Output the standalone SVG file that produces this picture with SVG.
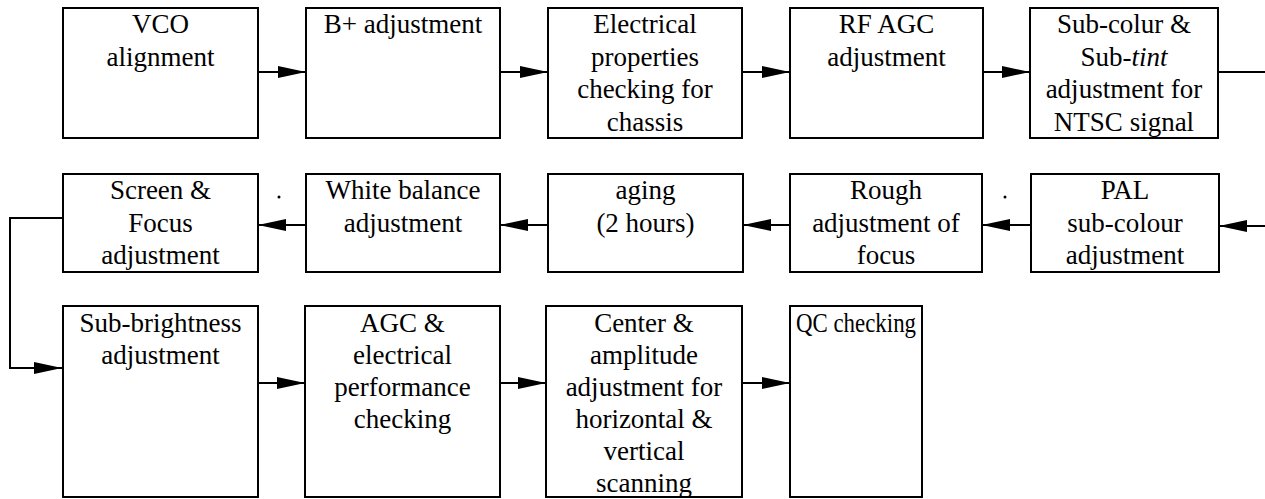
<svg xmlns="http://www.w3.org/2000/svg" width="1265" height="499" viewBox="0 0 1265 499">
<style>
.box{fill:#fff;stroke:#000;stroke-width:2}
.t{font-family:'Liberation Serif','DejaVu Serif','Times New Roman',serif;font-size:27px;fill:#000;text-anchor:middle}
.c{fill:none;stroke:#000;stroke-width:2}
.i{font-style:italic}
</style>
<defs>
<marker id="ah" markerUnits="userSpaceOnUse" markerWidth="30" markerHeight="14" refX="28" refY="6" orient="auto">
<path d="M0,0 L28,6 L0,12 z" fill="#000"/>
</marker>
</defs>
<g id="connectors">
<line class="c" x1="258" y1="72" x2="306" y2="72" marker-end="url(#ah)"/>
<line class="c" x1="500" y1="72" x2="548" y2="72" marker-end="url(#ah)"/>
<line class="c" x1="742" y1="72" x2="790" y2="72" marker-end="url(#ah)"/>
<line class="c" x1="983" y1="72" x2="1030" y2="72" marker-end="url(#ah)"/>
<line class="c" x1="1218" y1="72" x2="1265" y2="72"/>
<line class="c" x1="1265" y1="226" x2="1219" y2="226" marker-end="url(#ah)"/>
<line class="c" x1="1031" y1="225" x2="982" y2="225" marker-end="url(#ah)"/>
<line class="c" x1="790" y1="225" x2="743" y2="225" marker-end="url(#ah)"/>
<line class="c" x1="548" y1="225" x2="500" y2="225" marker-end="url(#ah)"/>
<line class="c" x1="306" y1="225" x2="258" y2="225" marker-end="url(#ah)"/>
<polyline class="c" points="63,218 10,218 10,368 62,368" marker-end="url(#ah)"/>
<line class="c" x1="258" y1="383" x2="305" y2="383" marker-end="url(#ah)"/>
<line class="c" x1="500" y1="383" x2="546" y2="383" marker-end="url(#ah)"/>
<line class="c" x1="742" y1="383" x2="790" y2="383" marker-end="url(#ah)"/>
<circle cx="279" cy="197" r="1.5" fill="#000"/>
<circle cx="1005" cy="197" r="1.5" fill="#000"/>
</g>
<g id="vco">
<rect class="box" x="63" y="8" width="195" height="130"/>
<text class="t" x="160.5" y="33">VCO</text>
<text class="t" x="160.5" y="65.5">alignment</text>
</g>
<g id="bplus">
<rect class="box" x="306" y="8" width="194" height="130"/>
<text class="t" x="403" y="33">B+ adjustment</text>
</g>
<g id="electrical">
<rect class="box" x="548" y="8" width="194" height="130"/>
<text class="t" x="645" y="33">Electrical</text>
<text class="t" x="645" y="65.5">properties</text>
<text class="t" x="645" y="98">checking for</text>
<text class="t" x="645" y="130.5">chassis</text>
</g>
<g id="rfagc">
<rect class="box" x="790" y="8" width="193" height="130"/>
<text class="t" x="886.5" y="33">RF AGC</text>
<text class="t" x="886.5" y="65.5">adjustment</text>
</g>
<g id="subcolur">
<rect class="box" x="1030" y="8" width="188" height="130"/>
<text class="t" x="1124" y="33">Sub-colur &amp;</text>
<text class="t" x="1124" y="65.5">Sub-<tspan class="i">tint</tspan></text>
<text class="t" x="1124" y="98">adjustment for</text>
<text class="t" x="1124" y="130.5">NTSC signal</text>
</g>
<g id="pal">
<rect class="box" x="1031" y="174" width="188" height="98"/>
<text class="t" x="1125" y="199">PAL</text>
<text class="t" x="1125" y="231.5">sub-colour</text>
<text class="t" x="1125" y="264">adjustment</text>
</g>
<g id="rough">
<rect class="box" x="790" y="174" width="192" height="98"/>
<text class="t" x="886" y="199">Rough</text>
<text class="t" x="886" y="231.5">adjustment of</text>
<text class="t" x="886" y="264">focus</text>
</g>
<g id="aging">
<rect class="box" x="548" y="174" width="195" height="98"/>
<text class="t" x="645.5" y="199">aging</text>
<text class="t" x="645.5" y="231.5">(2 hours)</text>
</g>
<g id="white">
<rect class="box" x="306" y="174" width="194" height="98"/>
<text class="t" x="403" y="199">White balance</text>
<text class="t" x="403" y="231.5">adjustment</text>
</g>
<g id="screen">
<rect class="box" x="63" y="174" width="195" height="98"/>
<text class="t" x="160.5" y="199">Screen &amp;</text>
<text class="t" x="160.5" y="231.5">Focus</text>
<text class="t" x="160.5" y="264">adjustment</text>
</g>
<g id="subbright">
<rect class="box" x="63" y="306" width="195" height="191"/>
<text class="t" x="160.5" y="332">Sub-brightness</text>
<text class="t" x="160.5" y="364">adjustment</text>
</g>
<g id="agc">
<rect class="box" x="305" y="306" width="195" height="191"/>
<text class="t" x="402.5" y="332">AGC &amp;</text>
<text class="t" x="402.5" y="364">electrical</text>
<text class="t" x="402.5" y="396">performance</text>
<text class="t" x="402.5" y="428">checking</text>
</g>
<g id="center">
<rect class="box" x="546" y="306" width="196" height="191"/>
<text class="t" x="644" y="332">Center &amp;</text>
<text class="t" x="644" y="364">amplitude</text>
<text class="t" x="644" y="396">adjustment for</text>
<text class="t" x="644" y="428">horizontal &amp;</text>
<text class="t" x="644" y="460">vertical</text>
<text class="t" x="644" y="492">scanning</text>
</g>
<g id="qc">
<rect class="box" x="790" y="306" width="132" height="191"/>
<text class="t" x="856" y="332" textLength="120" lengthAdjust="spacingAndGlyphs">QC checking</text>
</g>
</svg>
